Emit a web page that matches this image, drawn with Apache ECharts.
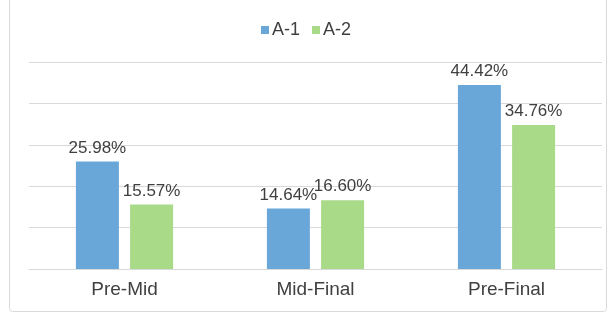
<!DOCTYPE html>
<html>
<head>
<meta charset="utf-8">
<script src="https://cdn.jsdelivr.net/npm/echarts@6/dist/echarts.min.js"></script>
<style>
  html, body { margin: 0; padding: 0; background: #fff; }
  #chart { width: 612px; height: 313px; }
</style>
</head>
<body>
<div id="chart"></div>
<script>
// data
const categories = ["Pre-Mid", "Mid-Final", "Pre-Final"];
const seriesA1 = [25.98, 14.64, 44.42];
const seriesA2 = [15.57, 16.6, 34.76];
const seriesNames = ["A-1", "A-2"];

const chart = echarts.init(document.getElementById("chart"));

const labelStyle = {
  show: true,
  position: "top",
  distance: 5,
  color: "#404040",
  fontSize: 17,
  fontFamily: "Liberation Sans, Arial, sans-serif",
  formatter: function (p) {
    return p.value.toFixed(2) + "%";
  },
};

chart.setOption({
  animation: false,
  graphic: [
    {
      type: "rect",
      shape: { x: 9.5, y: -5, width: 597, height: 316.5, r: 3 },
      style: { fill: "none", stroke: "#d9d9d9", lineWidth: 1 },
      silent: true,
    },
  ],
  legend: {
    data: seriesNames,
    top: 16,
    left: "center",
    itemWidth: 8,
    itemHeight: 8,
    itemGap: 12,
    icon: "rect",
    textStyle: {
      color: "#404040",
      fontSize: 18,
      fontFamily: "Liberation Sans, Arial, sans-serif",
      padding: [0, 0, 0, -2],
    },
  },
  grid: {
    left: 29,
    right: 10,
    top: 62,
    bottom: 44,
  },
  xAxis: {
    type: "category",
    data: categories,
    axisLine: { lineStyle: { color: "#d9d9d9", width: 1 } },
    axisTick: { show: false },
    axisLabel: {
      color: "#404040",
      fontSize: 19,
      margin: 11,
      fontFamily: "Liberation Sans, Arial, sans-serif",
    },
  },
  yAxis: {
    type: "value",
    min: 0,
    max: 50,
    interval: 10,
    axisLabel: { show: false },
    axisLine: { show: false },
    axisTick: { show: false },
    splitLine: { lineStyle: { color: "#d9d9d9", width: 1 } },
  },
  series: [
    {
      name: seriesNames[0],
      type: "bar",
      barWidth: 43,
      barGap: "26%",
      itemStyle: { color: "#6aa7d9" },
      label: labelStyle,
      data: seriesA1,
    },
    {
      name: seriesNames[1],
      type: "bar",
      barWidth: 43,
      itemStyle: { color: "#a8da88" },
      label: labelStyle,
      data: seriesA2,
    },
  ],
});
</script>
</body>
</html>
